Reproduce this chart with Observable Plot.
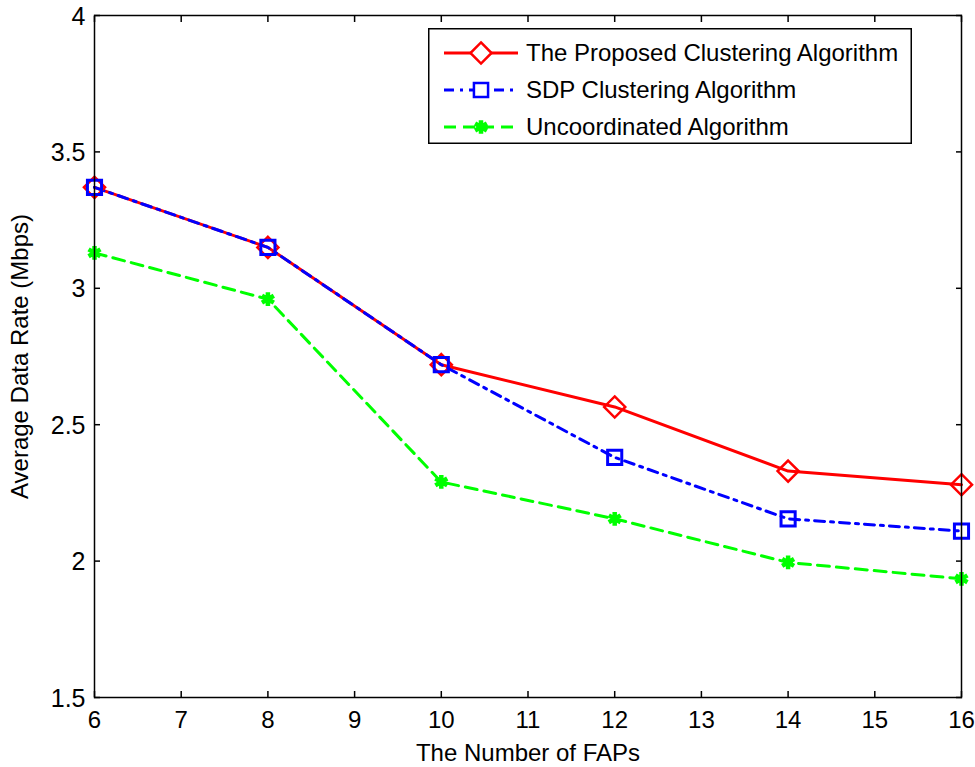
<!DOCTYPE html>
<html>
<head>
<meta charset="utf-8">
<script src="https://cdn.jsdelivr.net/npm/d3@7"></script>
<script src="https://cdn.jsdelivr.net/npm/@observablehq/plot@0.6"></script>
<style>
  html, body { margin: 0; padding: 0; background: #fff; }
  #wrap { position: relative; width: 975px; height: 767px; font-family: "Liberation Sans", Arial, sans-serif; }
  #legend { position: absolute; left: 428px; top: 28px; }
</style>
</head>
<body>
<div id="wrap"><div id="chart"></div><div id="legend"></div></div>
<script>
const faps = [6, 8, 10, 12, 14, 16];
const proposed = [3.37, 3.15, 2.72, 2.565, 2.33, 2.28];
const sdp = [3.37, 3.15, 2.72, 2.38, 2.155, 2.11];
const uncoordinated = [3.13, 2.96, 2.29, 2.155, 1.995, 1.935];
const xTicks = [6, 7, 8, 9, 10, 11, 12, 13, 14, 15, 16];
const yTicks = [1.5, 2, 2.5, 3, 3.5, 4];
const seriesNames = ["The Proposed Clustering Algorithm", "SDP Clustering Algorithm", "Uncoordinated Algorithm"];
const seriesColors = ["#ff0000", "#0000ff", "#00ff00"];
const seriesDash = [null, "10,6,3,6", "12,7"];
const seriesSymbol = ["diamond2", "square2", "asterisk"];

const rows = (vals) => faps.map((x, i) => ({x, y: vals[i]}));
const data = [rows(proposed), rows(sdp), rows(uncoordinated)];

const font = '"Liberation Sans", Arial, sans-serif';
const marks = [];
data.forEach((d, i) => {
  marks.push(Plot.line(d, {x: "x", y: "y", stroke: seriesColors[i], strokeWidth: 3, strokeDasharray: seriesDash[i]}));
});
marks.push(Plot.dot(data[0], {x: "x", y: "y", symbol: "diamond2", r: 9.5, stroke: seriesColors[0], strokeWidth: 2.5, fill: "none"}));
marks.push(Plot.dot(data[1], {x: "x", y: "y", symbol: "square2", r: 9, stroke: seriesColors[1], strokeWidth: 3, fill: "none"}));
marks.push(Plot.dot(data[2], {x: "x", y: "y", symbol: "asterisk", r: 6.5, stroke: seriesColors[2], strokeWidth: 4.5}));

marks.push(Plot.frame({stroke: "black", strokeWidth: 1.5}));
// inward ticks on all four sides
marks.push(Plot.axisX(xTicks, {anchor: "bottom", tickSize: -6, fill: "none", label: null, strokeWidth: 1.5}));
marks.push(Plot.axisX(xTicks, {anchor: "top", tickSize: -6, fill: "none", label: null, strokeWidth: 1.5}));
marks.push(Plot.axisY(yTicks, {anchor: "left", tickSize: -6, fill: "none", label: null, strokeWidth: 1.5}));
marks.push(Plot.axisY(yTicks, {anchor: "right", tickSize: -6, fill: "none", label: null, strokeWidth: 1.5}));
// tick labels
marks.push(Plot.text(xTicks, {x: d => d, frameAnchor: "bottom", lineAnchor: "top", dy: 13, fontSize: 24, fill: "black", text: d => String(d)}));
marks.push(Plot.text(yTicks, {y: d => d, frameAnchor: "left", textAnchor: "end", lineAnchor: "middle", dx: -9, dy: 1, fontSize: 25, fill: "black", text: d => String(d)}));
// axis titles
marks.push(Plot.axisX({anchor: "bottom", ticks: [], tickSize: 0, fontSize: 24,
  label: "The Number of FAPs", labelAnchor: "center", labelOffset: 63, labelArrow: "none"}));
marks.push(Plot.axisY({anchor: "left", ticks: [], tickSize: 0, fontSize: 24,
  label: "Average Data Rate (Mbps)", labelAnchor: "center", labelOffset: 84, labelArrow: "none"}));

const chart = Plot.plot({
  width: 975, height: 767,
  marginLeft: 94, marginRight: 14, marginTop: 15, marginBottom: 70,
  style: {fontFamily: font, color: "black", background: "white", overflow: "visible"},
  x: {domain: [6, 16]},
  y: {domain: [1.5, 4]},
  marks
});
document.getElementById("chart").appendChild(chart);

// legend
const lw = 484, lh = 116;
const svg = d3.select("#legend").append("svg").attr("width", lw).attr("height", lh).style("font-family", font);
svg.append("rect").attr("x", 0.75).attr("y", 0.75).attr("width", lw - 1.5).attr("height", lh - 1.5).attr("fill", "white").attr("stroke", "black").attr("stroke-width", 1.5);
seriesNames.forEach((name, i) => {
  const cy = 25 + i * 37;
  const g = svg.append("g");
  g.append("line").attr("x1", 16).attr("x2", 90).attr("y1", cy).attr("y2", cy)
    .attr("stroke", seriesColors[i]).attr("stroke-width", 3).attr("stroke-dasharray", seriesDash[i]);
  const sym = {diamond2: d3.symbolDiamond2, square2: d3.symbolSquare2, asterisk: d3.symbolAsterisk}[seriesSymbol[i]];
  const r = [9.5, 9, 6.5][i];
  g.append("path").attr("transform", `translate(53,${cy})`).attr("d", d3.symbol(sym, r * r * Math.PI)())
    .attr("fill", i === 2 ? "none" : "white").attr("stroke", seriesColors[i]).attr("stroke-width", i === 2 ? 4.5 : 2.5);
  g.append("text").attr("x", 98).attr("y", cy).attr("dy", "0.35em").attr("font-size", 24).text(name);
});
</script>
</body>
</html>
